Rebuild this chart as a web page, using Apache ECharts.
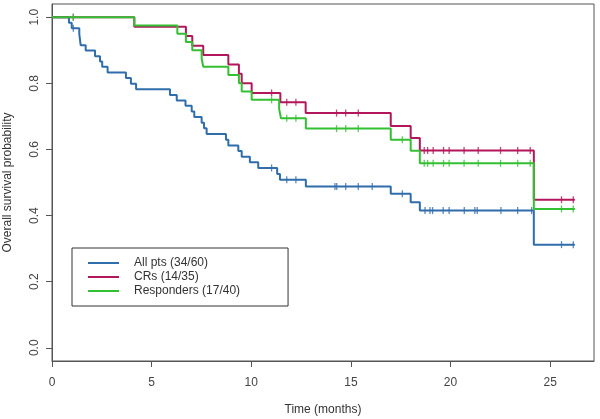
<!DOCTYPE html>
<html>
<head>
<meta charset="utf-8">
<script src="https://cdn.jsdelivr.net/npm/echarts@6/dist/echarts.min.js"></script>
<style>html,body{margin:0;padding:0;background:#fff}#c{width:600px;height:419px}</style>
</head>
<body>
<div id="c"></div>
<script>
// ---- Data (Kaplan-Meier steps) ----
const xTicks = [0, 5, 10, 15, 20, 25];
const yTicks = [0, 0.2, 0.4, 0.6, 0.8, 1.0];

const seriesNames = ['All pts (34/60)', 'CRs (14/35)', 'Responders (17/40)'];

const allTimes = [0, 0.85, 0.99, 1.37, 1.44, 1.69, 2.16, 2.41, 2.52, 2.79, 3.71, 3.96, 4.22, 5.92, 6.26, 6.70, 7.01, 7.14, 7.51, 7.63, 7.76, 8.73, 8.85, 9.35, 9.52, 9.93, 10.35, 11.30, 11.44, 12.74, 17.0, 18.0, 18.46, 24.18, 26.24];
const allSurv  = [1, 0.983, 0.967, 0.949, 0.915, 0.899, 0.882, 0.866, 0.85, 0.833, 0.816, 0.799, 0.782, 0.765, 0.748, 0.732, 0.715, 0.698, 0.681, 0.664, 0.647, 0.629, 0.612, 0.595, 0.578, 0.561, 0.544, 0.526, 0.508, 0.488, 0.466, 0.44, 0.415, 0.312, 0.312];
const allCensor = [1.07, 11.02, 11.78, 12.24, 14.20, 14.29, 14.74, 15.37, 16.07, 17.58, 18.72, 18.97, 19.10, 19.63, 19.93, 20.69, 21.22, 21.34, 22.53, 23.37, 24.07, 25.57, 26.16];

const crTimes = [0, 4.13, 6.72, 7.04, 7.59, 8.85, 9.38, 9.52, 10.02, 11.46, 12.73, 17.0, 18.0, 18.46, 24.18, 26.24];
const crSurv  = [1, 0.971, 0.943, 0.914, 0.886, 0.857, 0.829, 0.800, 0.771, 0.743, 0.710, 0.671, 0.635, 0.597, 0.448, 0.448];
const crCensor = [1.07, 11.02, 11.78, 12.24, 14.28, 14.74, 15.37, 18.68, 18.85, 19.13, 19.65, 19.93, 20.68, 21.39, 22.51, 23.37, 24.00, 25.57, 26.16];

const respTimes = [0, 4.13, 6.29, 6.72, 7.04, 7.51, 7.59, 8.85, 9.38, 9.52, 10.02, 11.40, 11.49, 12.74, 17.0, 18.0, 18.46, 24.18, 26.24];
const respSurv  = [1, 0.975, 0.95, 0.925, 0.9, 0.875, 0.85, 0.825, 0.8, 0.775, 0.75, 0.722, 0.694, 0.663, 0.629, 0.596, 0.558, 0.42, 0.42];
const respCensor = [1.07, 11.02, 11.78, 12.24, 14.28, 14.74, 15.37, 17.58, 18.68, 18.85, 19.13, 19.65, 19.93, 20.68, 21.39, 22.51, 23.37, 24.00, 25.57, 26.16];

const colors = ['#2f6dab', '#b3175b', '#33c033'];

// ---- Build ----
function pairs(T, S) { return T.map((t, i) => [t, S[i]]); }
function levelAt(T, S, t) {
  let v = S[0];
  for (let i = 0; i < T.length; i++) { if (T[i] <= t) v = S[i]; }
  return v;
}
function censorPts(C, T, S) { return C.map(t => [t, levelAt(T, S, t)]); }

const groups = [
  [allTimes, allSurv, allCensor],
  [crTimes, crSurv, crCensor],
  [respTimes, respSurv, respCensor]
];

const series = [];
groups.forEach((g, i) => {
  series.push({
    name: seriesNames[i], type: 'line', step: 'end', data: pairs(g[0], g[1]),
    showSymbol: false, lineStyle: { color: colors[i], width: 2 }, itemStyle: { color: colors[i] },
    z: 2 + i
  });
  series.push({
    name: seriesNames[i] + ' censored', type: 'scatter', data: censorPts(g[2], g[0], g[1]),
    symbol: 'rect', symbolSize: [1.3, 7], itemStyle: { color: colors[i] }, z: 2 + i
  });
});

const font = 'Liberation Sans, Arial, sans-serif';
const chart = echarts.init(document.getElementById('c'), null, { renderer: 'canvas' });
chart.setOption({
  animation: false,
  backgroundColor: '#fff',
  grid: { left: 52, right: 6, top: 4, bottom: 58, containLabel: false, outerBoundsMode: 'none',
    show: true, borderColor: '#555', borderWidth: 1, backgroundColor: 'transparent' },
  legend: {
    data: seriesNames.map((n, i) => ({ name: n, icon: 'rect', itemStyle: { color: colors[i] } })),
    orient: 'vertical', left: 72, top: 248,
    itemWidth: 31, itemHeight: 2, itemGap: 0,
    padding: [8, 48, 8, 16],
    borderColor: '#333', borderWidth: 1,
    selectedMode: false,
    textStyle: { fontFamily: font, fontSize: 12, color: '#333', lineHeight: 14, padding: [0, 0, 0, 10] }
  },
  xAxis: {
    type: 'value', min: 0, max: 27.2,
    name: 'Time (months)', nameLocation: 'middle', nameGap: 43,
    nameTextStyle: { fontFamily: font, fontSize: 12, color: '#333' },
    axisLine: { show: true, onZero: false, lineStyle: { color: '#555' } },
    axisTick: { show: true, length: 6, lineStyle: { color: '#555' }, customValues: xTicks },
    axisLabel: { fontFamily: font, fontSize: 12, color: '#444', margin: 16, customValues: xTicks },
    splitLine: { show: false }
  },
  yAxis: {
    type: 'value', min: -0.04, max: 1.04,
    name: 'Overall survival probability', nameLocation: 'middle', nameGap: 38,
    nameTextStyle: { fontFamily: font, fontSize: 12, color: '#333' },
    axisLine: { show: true, onZero: false, lineStyle: { color: '#555' } },
    axisTick: { show: true, length: 6, lineStyle: { color: '#555' }, customValues: yTicks },
    axisLabel: { fontFamily: font, fontSize: 12, color: '#444', margin: 11, rotate: 90,
      customValues: yTicks, formatter: v => v.toFixed(1) },
    splitLine: { show: false }
  },
  series: series
});
</script>
</body>
</html>
